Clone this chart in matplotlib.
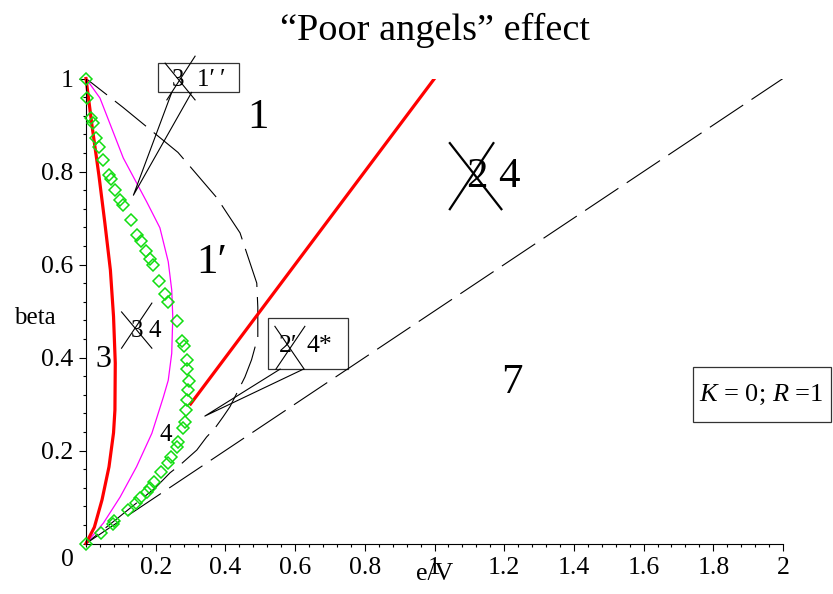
import matplotlib
matplotlib.use("Agg")
import matplotlib.pyplot as plt
from matplotlib.patches import Rectangle
from matplotlib.ticker import MultipleLocator

plt.rcParams["font.family"] = ["Liberation Serif", "DejaVu Serif"]
plt.rcParams["mathtext.fontset"] = "custom"
plt.rcParams["mathtext.rm"] = "Liberation Serif"
plt.rcParams["mathtext.it"] = "Liberation Serif:italic"

# boundary curves (x = e/V, y = beta)
red_ev = [0.0, 0.017, 0.037, 0.054, 0.070, 0.079, 0.084, 0.083, 0.079, 0.066,
          0.046, 0.024, 0.0]
red_beta = [1.0, 0.900, 0.792, 0.690, 0.588, 0.488, 0.388, 0.287, 0.238, 0.165,
            0.094, 0.035, 0.0]

mag_ev = [0.0, 0.040, 0.107, 0.174, 0.212, 0.236, 0.246, 0.249, 0.246, 0.236,
          0.222, 0.189, 0.145, 0.098, 0.050, 0.0]
mag_beta = [1.0, 0.958, 0.829, 0.735, 0.679, 0.606, 0.545, 0.487, 0.409, 0.351,
            0.315, 0.237, 0.165, 0.100, 0.044, 0.0]

dash_ev = [0.0, 0.106, 0.264, 0.376, 0.404, 0.442, 0.461, 0.490, 0.493, 0.493,
           0.475, 0.456, 0.442, 0.413, 0.393, 0.370, 0.346, 0.318, 0.270, 0.241,
           0.198, 0.100, 0.0]
dash_beta = [1.0, 0.938, 0.841, 0.743, 0.711, 0.668, 0.625, 0.560, 0.508, 0.444,
             0.395, 0.358, 0.337, 0.294, 0.272, 0.248, 0.229, 0.201, 0.169, 0.152,
             0.119, 0.060, 0.0]

half_ev = [0.0, 2.0]
half_beta = [0.0, 1.0]

diag_ev = [0.3, 1.0]
diag_beta = [0.3, 1.0]

pts_ev = [0.0, 0.004, 0.013, 0.019, 0.029, 0.038, 0.048, 0.067, 0.072, 0.083,
          0.098, 0.105, 0.128, 0.147, 0.157, 0.172, 0.184, 0.191, 0.210, 0.227,
          0.236, 0.260, 0.275, 0.281, 0.291, 0.291, 0.296, 0.294, 0.291, 0.287,
          0.284, 0.279, 0.265, 0.260, 0.243, 0.236, 0.215, 0.195, 0.184, 0.174,
          0.155, 0.143, 0.121, 0.080, 0.077, 0.042, 0.0]
pts_beta = [1.0, 0.957, 0.916, 0.905, 0.872, 0.852, 0.825, 0.792, 0.783, 0.760,
            0.738, 0.727, 0.695, 0.664, 0.651, 0.628, 0.611, 0.598, 0.564, 0.537,
            0.520, 0.478, 0.435, 0.424, 0.394, 0.376, 0.350, 0.331, 0.309, 0.287,
            0.261, 0.249, 0.218, 0.207, 0.186, 0.173, 0.154, 0.132, 0.120, 0.110,
            0.097, 0.087, 0.072, 0.049, 0.042, 0.023, 0.0]

x_ticks = [0.2, 0.4, 0.6, 0.8, 1.0, 1.2, 1.4, 1.6, 1.8, 2.0]
x_labels = ["0.2", "0.4", "0.6", "0.8", "1", "1.2", "1.4", "1.6", "1.8", "2"]
y_ticks = [0.2, 0.4, 0.6, 0.8, 1.0]
y_labels = ["0.2", "0.4", "0.6", "0.8", "1"]

fig = plt.figure(figsize=(8.33, 5.94), dpi=100)
ax = fig.add_axes([86 / 833, 50.5 / 594, 697 / 833, 465 / 594])

ax.plot(half_ev, half_beta, color="black", lw=0.8, ls=(0, (36, 9)))
ax.plot(dash_ev, dash_beta, color="black", lw=0.8, ls=(12, (36, 9)))
ax.plot(mag_ev, mag_beta, color="#ff00ff", lw=0.9, clip_on=False)
ax.plot(red_ev, red_beta, color="#ff0000", lw=2.3, clip_on=False)
ax.plot(diag_ev, diag_beta, color="#ff0000", lw=2.3)
ax.plot(pts_ev, pts_beta, ls="none", marker="D", ms=6, mfc="none",
        mec="#11dd11", mew=1.1, clip_on=False, zorder=5)

ax.set_xlim(0, 2)
ax.set_ylim(0, 1)
ax.spines["top"].set_visible(False)
ax.spines["right"].set_visible(False)
ax.set_xticks(x_ticks)
ax.set_xticklabels(x_labels)
ax.set_yticks(y_ticks)
ax.set_yticklabels(y_labels)
ax.xaxis.set_minor_locator(MultipleLocator(0.04))
ax.yaxis.set_minor_locator(MultipleLocator(0.04))
ax.tick_params(which="major", length=5, width=0.8, labelsize=18.5, pad=4)
ax.tick_params(which="minor", length=2.5, width=0.8)
ax.tick_params(axis="x", pad=5)

ax.text(-0.052, -0.035, "0", fontsize=18.5, ha="center", va="center", clip_on=False)
ax.text(1.0, -0.066, "e/V", fontsize=18.5, ha="center", va="center")
ax.text(-0.146, 0.485, "beta", fontsize=18, ha="center", va="center")

fig.text(0.522, 1 - 30 / 594, "\u201cPoor angels\u201d effect", fontsize=27.5,
         ha="center", va="center")

# region labels
ax.text(0.494, 0.915, "1", fontsize=31, ha="center", va="center")
ax.text(0.362, 0.603, "1\u2032", fontsize=31, ha="center", va="center")
ax.text(1.222, 0.345, "7", fontsize=31, ha="center", va="center")
ax.text(0.050, 0.395, "3", fontsize=23, ha="center", va="center")
ax.text(0.229, 0.233, "4", fontsize=18, ha="center", va="center")

# crossed "2 4"
ax.text(1.121, 0.788, "2", fontsize=31, ha="center", va="center")
ax.text(1.214, 0.788, "4", fontsize=31, ha="center", va="center")
ax.plot([1.044, 1.192], [0.861, 0.719], color="black", lw=1.6)
ax.plot([1.169, 1.044], [0.861, 0.719], color="black", lw=1.6)

# crossed "3 4"
ax.text(0.145, 0.457, "3", fontsize=18, ha="center", va="center")
ax.text(0.198, 0.457, "4", fontsize=18, ha="center", va="center")
ax.plot([0.102, 0.189], [0.498, 0.420], color="black", lw=0.8)
ax.plot([0.189, 0.102], [0.517, 0.420], color="black", lw=0.8)

# box "3 1''" with leaders
ax.add_patch(Rectangle((0.207, 0.970), 0.232, 0.063, fill=False, ec="#333333",
                       lw=0.9, clip_on=False))
ax.text(0.265, 0.997, "3", fontsize=18, ha="center", va="center", clip_on=False)
ax.text(0.359, 0.997, "1\u2032\u2009\u2032", fontsize=18, ha="center", va="center",
        clip_on=False)
ax.plot([0.227, 0.313], [1.033, 0.954], color="black", lw=0.8, clip_on=False)
ax.plot([0.313, 0.232], [1.048, 0.954], color="black", lw=0.8, clip_on=False)
ax.plot([0.246, 0.136, 0.303], [0.970, 0.749, 0.970], color="black", lw=0.8,
        clip_on=False)

# box "2' 4*" with leaders
ax.add_patch(Rectangle((0.521, 0.375), 0.230, 0.109, fill=False, ec="#333333",
                       lw=0.9))
ax.text(0.580, 0.424, "2\u2032", fontsize=18.5, ha="center", va="center")
ax.text(0.671, 0.424, "4*", fontsize=18.5, ha="center", va="center")
ax.plot([0.542, 0.626], [0.467, 0.375], color="black", lw=0.8)
ax.plot([0.628, 0.545], [0.467, 0.375], color="black", lw=0.8)
ax.plot([0.557, 0.341, 0.624], [0.375, 0.274, 0.375], color="black", lw=0.8)

# parameter box
ax.add_patch(Rectangle((1.742, 0.261), 0.396, 0.119, fill=False, ec="#333333",
                       lw=0.9, clip_on=False))
ax.text(1.937, 0.319, "$K$ = 0; $R$ =1", fontsize=19, ha="center", va="center",
        clip_on=False)

fig.savefig("out.png", dpi=100)
